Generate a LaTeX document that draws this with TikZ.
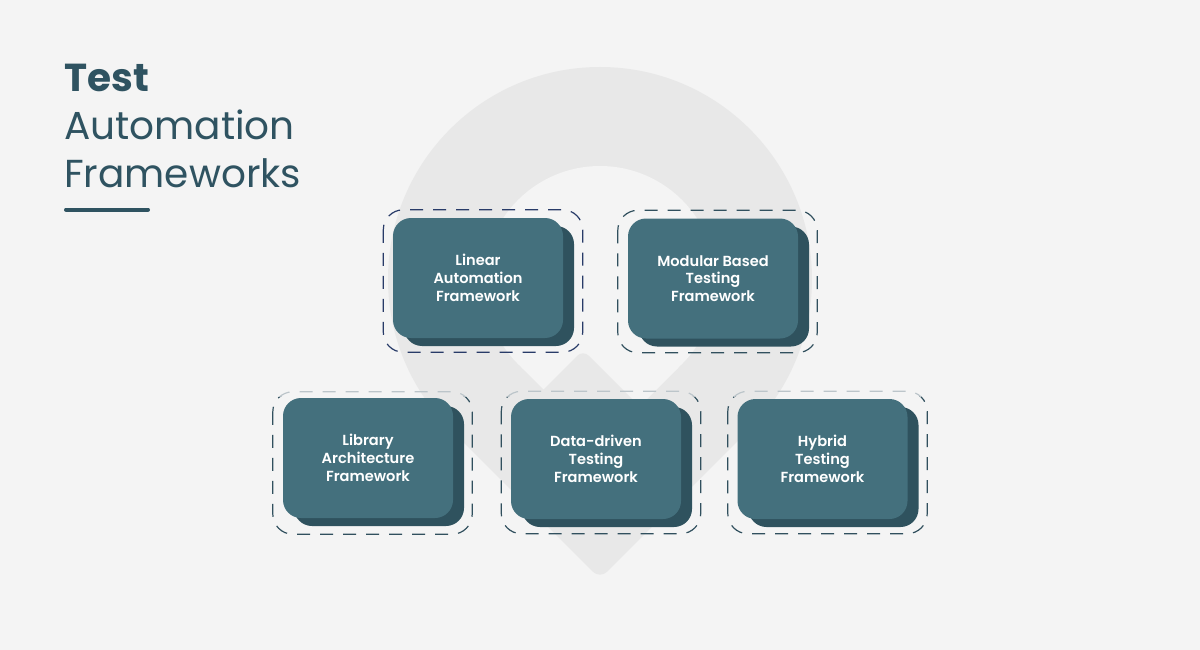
\documentclass[tikz,border=0pt]{standalone}
\usepackage{fontspec}
\setmainfont{Poppins}
\newfontfamily\cardfont{Poppins SemiBold}
\usetikzlibrary{positioning,shadows}
\definecolor{cPage}{HTML}{F4F4F4}
\definecolor{cPin}{HTML}{E8E8E8}
\definecolor{cCard}{HTML}{44707D}
\definecolor{cShade}{HTML}{2F525E}
\definecolor{cTitle}{HTML}{2F5361}
\definecolor{cNavy}{HTML}{283B68}
\definecolor{cSlate}{HTML}{31505E}
\definecolor{cFaint}{HTML}{BCC5CA}

\begin{document}
\begin{tikzpicture}[
    x=1pt, y=-1pt,
    title/.style={anchor=base west, inner sep=0pt, text=cTitle, font=\fontsize{39}{47}\selectfont},
    card/.style={fill=cCard, rounded corners=18pt, minimum width=170pt, minimum height=120pt,
        text=white, align=center, font=\cardfont\fontsize{14.6}{17.8}\selectfont,
        drop shadow={shadow xshift=11pt, shadow yshift=-8pt, fill=cShade, opacity=1}},
    frame/.style={minimum width=199pt, minimum height=142pt, inner sep=0pt},
    dashline/.style={dash pattern=on 13pt off 10pt, line width=1.2pt, rounded corners=20pt}
]

% page and pin in the back
\fill[cPage] (0,0) rectangle (1200,650);
\useasboundingbox (0,0) rectangle (1200,650);
\fill[cPin] (600,279) circle[radius=212];
\fill[cPin, rounded corners=10pt] (600,279) -- (450.1,428.9) -- (600,578.8) -- (749.9,428.9) -- cycle;
\fill[cPage] (600,282) circle[radius=116];
\fill[cPage, rounded corners=6pt] (600,282) -- (518,364) -- (600,446) -- (682,364) -- cycle;
\fill[cPin, rounded corners=8pt] (583,350) -- (478,455) -- (598,576) -- (703,470) -- cycle;

\node[title, font=\fontsize{39}{47}\selectfont\bfseries] (tTest) at (64,92) {Test};
\node[title] (tAuto) at (64,140) {Automation};
\node[title] (tFrame) at (64,187) {Frameworks};
\draw[cTitle, line width=4pt, line cap=round] ([xshift=2pt,yshift=-22.5pt]tFrame.base west) -- ++(82,0);

\node[frame] (linF) at (483,281) {};
\node[frame] (modF) at (717.5,281.5) {};
\node[frame] (libF) at (372.5,463) {};
\node[frame] (datF) at (601,462.5) {};
\node[frame] (hybF) at (827.5,462.5) {};

\draw[dashline, cNavy] (linF.north west) rectangle (linF.south east);
\draw[dashline, cSlate] (modF.north west) rectangle (modF.south east);
\foreach \f in {libF,datF,hybF} {
  \begin{scope}
    \clip ([xshift=-6pt,yshift=-5pt]\f.north west) rectangle ([xshift=6pt,yshift=-6pt]\f.south east);
    \draw[dashline, cSlate] (\f.north west) rectangle (\f.south east);
  \end{scope}
  \begin{scope}
    \clip ([xshift=-6pt,yshift=5pt]\f.north west) rectangle ([xshift=6pt,yshift=-5pt]\f.north east);
    \draw[dashline, cFaint] (\f.north west) rectangle (\f.south east);
  \end{scope}
}

\node[card] (lin) at ([xshift=-5pt,yshift=3pt]linF.center) {Linear\\Automation\\Framework};
\node[card] (mod) at ([xshift=-4.5pt,yshift=3pt]modF.center) {Modular Based\\Testing\\Framework};
\node[card] (lib) at ([xshift=-4.5pt,yshift=5pt]libF.center) {Library\\Architecture\\Framework};
\node[card] (dat) at ([xshift=-5pt,yshift=3.5pt]datF.center) {Data-driven\\Testing\\Framework};
\node[card] (hyb) at ([xshift=-5pt,yshift=3.5pt]hybF.center) {Hybrid\\Testing\\Framework};

\end{tikzpicture}
\end{document}
